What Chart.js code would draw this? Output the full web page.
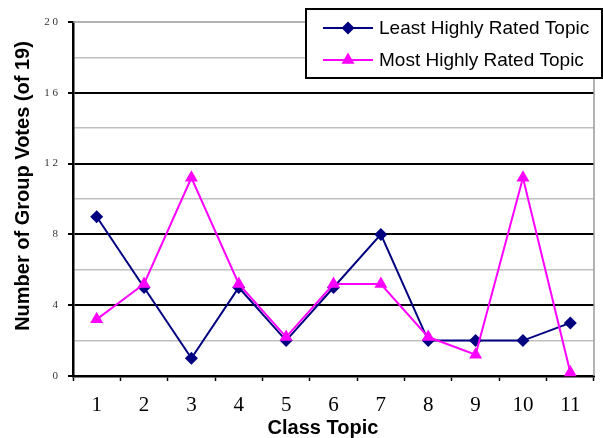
<!DOCTYPE html>
<html>
<head>
<meta charset="utf-8">
<script src="https://cdn.jsdelivr.net/npm/chart.js@4/dist/chart.umd.min.js"></script>
<style>
  html, body { margin: 0; padding: 0; background: #ffffff; }
  #wrap { width: 603px; height: 438px; position: relative; }
</style>
</head>
<body>
<div id="wrap"><canvas id="c" width="603" height="438"></canvas></div>
<script>
// Class topics on the x axis
const topics = ['1', '2', '3', '4', '5', '6', '7', '8', '9', '10', '11'];
// Votes per topic (out of 19 groups)
const leastRated = [9, 5, 1, 5, 2, 5, 8, 2, 2, 2, 3];
const mostRated = [3.2, 5.2, 11.2, 5.2, 2.2, 5.2, 5.2, 2.2, 1.2, 11.2, 0.2];
// Labelled y values
const yTickLabels = [0, 4, 8, 12, 16, 20];

const seriesNames = ['Least Highly Rated Topic', 'Most Highly Rated Topic'];
const xTitle = 'Class Topic';
const yTitle = 'Number of Group Votes (of 19)';

const NAVY = '#000080';
const MAGENTA = '#ff00ff';

function drawMarker(ctx, style, x, y, r, color) {
  ctx.save();
  ctx.fillStyle = color;
  ctx.beginPath();
  if (style === 'rectRot') {
    ctx.moveTo(x, y - r);
    ctx.lineTo(x + r, y);
    ctx.lineTo(x, y + r);
    ctx.lineTo(x - r, y);
  } else {
    ctx.moveTo(x, y - r);
    ctx.lineTo(x + r * 0.866, y + r * 0.5);
    ctx.lineTo(x - r * 0.866, y + r * 0.5);
  }
  ctx.closePath();
  ctx.fill();
  ctx.restore();
}

// Grey frame on the top and right of the plot area
const frame = {
  id: 'frame',
  beforeDatasetsDraw(chart) {
    const { ctx, chartArea: a } = chart;
    ctx.save();
    ctx.strokeStyle = '#9a9a9a';
    ctx.lineWidth = 1.5;
    ctx.beginPath();
    ctx.moveTo(a.left, a.top);
    ctx.lineTo(a.right, a.top);
    ctx.lineTo(a.right, a.bottom);
    ctx.stroke();
    ctx.restore();
  }
};

// Boxed legend in the top-right corner and the axis titles
const decor = {
  id: 'decor',
  afterDatasetsDraw(chart) {
    const { ctx } = chart;
    ctx.save();
    const bx = 306, by = 9, bw = 296, bh = 69;
    ctx.fillStyle = '#ffffff';
    ctx.fillRect(bx, by, bw, bh);
    ctx.strokeStyle = '#000000';
    ctx.lineWidth = 2;
    ctx.strokeRect(bx, by, bw, bh);
    const rows = [28, 60];
    chart.data.datasets.forEach((ds, i) => {
      const y = rows[i];
      ctx.strokeStyle = ds.borderColor;
      ctx.lineWidth = 2;
      ctx.beginPath();
      ctx.moveTo(323, y);
      ctx.lineTo(373, y);
      ctx.stroke();
      drawMarker(ctx, ds.pointStyle, 348, y, ds.pointRadius, ds.backgroundColor);
      ctx.fillStyle = '#000000';
      ctx.font = '19px "Liberation Sans", Arial, sans-serif';
      ctx.textAlign = 'left';
      ctx.textBaseline = 'middle';
      ctx.fillText(ds.label, 379, y + 1);
    });
    ctx.restore();
  },
  afterDraw(chart) {
    const { ctx } = chart;
    ctx.save();
    ctx.fillStyle = '#000000';
    ctx.font = 'bold 20px "Liberation Sans", Arial, sans-serif';
    ctx.textAlign = 'center';
    ctx.textBaseline = 'alphabetic';
    ctx.fillText(xTitle, 323, 434);
    ctx.translate(29, 186);
    ctx.rotate(-Math.PI / 2);
    ctx.fillText(yTitle, 0, 0);
    ctx.restore();
  }
};

new Chart(document.getElementById('c'), {
  type: 'line',
  data: {
    labels: topics,
    datasets: [
      {
        label: seriesNames[0],
        data: leastRated,
        borderColor: NAVY,
        backgroundColor: NAVY,
        borderWidth: 2,
        pointStyle: 'rectRot',
        pointRadius: 6.5,
        pointHoverRadius: 6.5,
        pointBorderWidth: 0,
        tension: 0,
        clip: false,
        order: 2
      },
      {
        label: seriesNames[1],
        data: mostRated,
        borderColor: MAGENTA,
        backgroundColor: MAGENTA,
        borderWidth: 2,
        pointStyle: 'triangle',
        pointRadius: 7.5,
        pointHoverRadius: 7.5,
        pointBorderWidth: 0,
        tension: 0,
        clip: false,
        order: 1
      }
    ]
  },
  options: {
    responsive: false,
    animation: false,
    events: [],
    layout: { padding: { top: 22, right: 9, left: 0, bottom: 0 } },
    plugins: {
      legend: { display: false },
      tooltip: { enabled: false },
      title: { display: false }
    },
    scales: {
      x: {
        type: 'category',
        offset: true,
        afterFit(scale) { scale.height = 62; },
        grid: {
          offset: true,
          drawOnChartArea: false,
          drawTicks: true,
          tickLength: 5,
          tickColor: '#000000',
          tickWidth: 1.5
        },
        border: { display: true, color: '#000000', width: 2.5 },
        ticks: {
          color: '#000000',
          padding: 12,
          maxRotation: 0,
          autoSkip: false,
          font: { family: '"Liberation Serif", "Times New Roman", serif', size: 21 }
        }
      },
      y: {
        min: 0,
        max: 20,
        afterFit(scale) { scale.width = 73; },
        afterBuildTicks(scale) {
          const t = [];
          for (let v = 0; v <= 20; v += 2) t.push({ value: v });
          scale.ticks = t;
        },
        grid: {
          color(ctx) {
            const v = ctx.tick.value;
            if (v === 20) return 'rgba(0,0,0,0)';
            return yTickLabels.includes(v) ? '#000000' : '#c0c0c0';
          },
          lineWidth(ctx) {
            return yTickLabels.includes(ctx.tick.value) ? 2 : 1.5;
          },
          drawTicks: true,
          tickLength: 5,
          tickColor(ctx) {
            return yTickLabels.includes(ctx.tick.value) ? '#000000' : 'rgba(0,0,0,0)';
          },
          tickWidth: 2
        },
        border: { display: true, color: '#000000', width: 2.5 },
        ticks: {
          color: '#333333',
          padding: 10,
          font: { family: '"Liberation Serif", "Times New Roman", serif', size: 11 },
          callback(v) {
            return yTickLabels.includes(v) ? String(v).split('').join(' ') : '';
          }
        }
      }
    }
  },
  plugins: [frame, decor]
});
</script>
</body>
</html>
